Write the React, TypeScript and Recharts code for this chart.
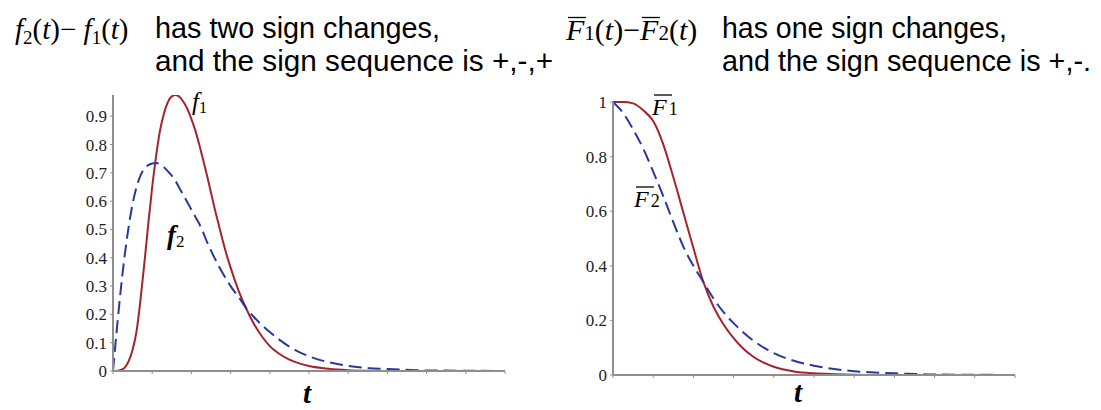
import React from 'react';
import { LineChart, Line, XAxis, YAxis } from 'recharts';

// ---- Left panel: densities f1 (solid) and f2 (dashed)
const densityT = [0, 0.1, 0.2, 0.3, 0.4, 0.5, 0.6, 0.7, 0.8, 0.9, 1.0, 1.1, 1.2, 1.3, 1.4, 1.5, 1.6, 1.7, 1.8, 1.9, 2.0, 2.1, 2.2, 2.3, 2.4, 2.5, 2.6, 2.7, 2.8, 2.9, 3.0, 3.2, 3.4, 3.6, 3.8, 4.0, 4.25, 4.5, 4.75, 5, 5.5, 6, 6.5, 7, 7.5, 8, 9, 10];
const f1Values = [0, 0.001, 0.004, 0.012, 0.035, 0.075, 0.14, 0.25, 0.38, 0.52, 0.65, 0.76, 0.85, 0.91, 0.95, 0.97, 0.975, 0.968, 0.95, 0.925, 0.89, 0.85, 0.8, 0.745, 0.69, 0.63, 0.57, 0.515, 0.46, 0.41, 0.365, 0.285, 0.22, 0.165, 0.122, 0.088, 0.06, 0.04, 0.027, 0.018, 0.008, 0.003, 0.001, 0, 0, 0, 0, 0];
const f2Values = [0, 0.15, 0.29, 0.41, 0.51, 0.59, 0.65, 0.69, 0.715, 0.727, 0.733, 0.735, 0.73, 0.72, 0.705, 0.69, 0.67, 0.645, 0.62, 0.595, 0.57, 0.545, 0.52, 0.49, 0.455, 0.425, 0.397, 0.37, 0.345, 0.322, 0.3, 0.262, 0.222, 0.19, 0.162, 0.138, 0.11, 0.086, 0.067, 0.052, 0.031, 0.018, 0.011, 0.007, 0.004, 0.002, 0.001, 0];

// ---- Right panel: survival functions F1bar (solid) and F2bar (dashed)
const survT = [0, 0.25, 0.5, 0.75, 1.0, 1.25, 1.5, 1.75, 2.0, 2.25, 2.5, 2.75, 3.0, 3.25, 3.5, 3.75, 4.0, 4.5, 5, 5.5, 6, 6.5, 7, 7.5, 8, 9, 10];
const F1barValues = [1, 1, 0.995, 0.97, 0.93, 0.845, 0.725, 0.595, 0.465, 0.34, 0.25, 0.185, 0.135, 0.095, 0.066, 0.045, 0.03, 0.013, 0.006, 0.003, 0.001, 0, 0, 0, 0, 0, 0];
const F2barValues = [1, 0.96, 0.9, 0.83, 0.745, 0.655, 0.56, 0.47, 0.4, 0.34, 0.28, 0.23, 0.19, 0.155, 0.125, 0.1, 0.08, 0.052, 0.034, 0.022, 0.014, 0.009, 0.006, 0.004, 0.002, 0.001, 0];

// ---- Ticks
const xTicks = [0, 1, 2, 3, 4, 5, 6, 7, 8, 9, 10];
const leftYTicks = [0, 0.1, 0.2, 0.3, 0.4, 0.5, 0.6, 0.7, 0.8, 0.9];
const leftYTickLabels = ['0', '0.1', '0.2', '0.3', '0.4', '0.5', '0.6', '0.7', '0.8', '0.9'];
const rightYTicks = [0, 0.2, 0.4, 0.6, 0.8, 1];
const rightYTickLabels = ['0', '0.2', '0.4', '0.6', '0.8', '1'];

const densityRows = densityT.map((t, i) => ({ t, f1: f1Values[i], f2: f2Values[i] }));
const survRows = survT.map((t, i) => ({ t, F1: F1barValues[i], F2: F2barValues[i] }));

const RED = '#a3232f';
const BLUE = '#28399b';
const AXIS = '#8e8e8e';
const SERIF = '"Liberation Serif", "DejaVu Serif", serif';
const SANS = '"Liberation Sans", Arial, sans-serif';

const tickStyle = { fontFamily: SERIF, fontSize: 17, fill: '#222' };

export default function App() {
  return (
    <div style={{ position: 'absolute', left: 0, top: 0, width: 1101, height: 410, background: '#fff' }}>
      <div style={{ position: 'absolute', left: 0, top: 0 }}>
        <LineChart width={560} height={410} data={densityRows} margin={{ top: 95, right: 55, bottom: 29, left: 0 }}>
          <XAxis
            dataKey="t"
            type="number"
            domain={[0, 10]}
            ticks={xTicks}
            tickFormatter={() => ''}
            height={10}
            tickSize={3}
            axisLine={{ stroke: AXIS, strokeWidth: 2 }}
            tickLine={{ stroke: AXIS }}
          />
          <YAxis
            type="number"
            domain={[0, 0.975]}
            allowDataOverflow
            ticks={leftYTicks}
            tickFormatter={(v: number) => leftYTickLabels[leftYTicks.indexOf(v)] ?? ''}
            width={113}
            tickSize={3}
            tickMargin={3}
            tick={tickStyle}
            axisLine={{ stroke: AXIS, strokeWidth: 2 }}
            tickLine={{ stroke: AXIS }}
          />
          <Line type="monotone" dataKey="f1" stroke={RED} strokeWidth={2} dot={false} isAnimationActive={false} />
          <Line type="monotone" dataKey="f2" stroke={BLUE} strokeWidth={2} strokeDasharray="13 6" dot={false} isAnimationActive={false} />
        </LineChart>
      </div>
      <div style={{ position: 'absolute', left: 560, top: 0 }}>
        <LineChart width={541} height={410} data={survRows} margin={{ top: 102, right: 86, bottom: 25, left: 0 }}>
          <XAxis
            dataKey="t"
            type="number"
            domain={[0, 10]}
            ticks={xTicks}
            tickFormatter={() => ''}
            height={10}
            tickSize={3}
            axisLine={{ stroke: AXIS, strokeWidth: 2 }}
            tickLine={{ stroke: AXIS }}
          />
          <YAxis
            type="number"
            domain={[0, 1]}
            ticks={rightYTicks}
            tickFormatter={(v: number) => rightYTickLabels[rightYTicks.indexOf(v)] ?? ''}
            width={53}
            tickSize={3}
            tickMargin={3}
            tick={tickStyle}
            axisLine={{ stroke: AXIS, strokeWidth: 2 }}
            tickLine={{ stroke: AXIS }}
          />
          <Line type="monotone" dataKey="F1" stroke={RED} strokeWidth={2} dot={false} isAnimationActive={false} />
          <Line type="monotone" dataKey="F2" stroke={BLUE} strokeWidth={2} strokeDasharray="13 6" dot={false} isAnimationActive={false} />
        </LineChart>
      </div>
      <svg width={1101} height={410} style={{ position: 'absolute', left: 0, top: 0, pointerEvents: 'none' }}>
        {/* Left title */}
        <text x={15} y={39} fontFamily={SERIF} fontSize={29} fill="#000">
          <tspan fontStyle="italic">f</tspan>
          <tspan fontSize={19} dy={5}>2</tspan>
          <tspan dy={-5}>(</tspan>
          <tspan fontStyle="italic">t</tspan>
          <tspan>)− </tspan>
          <tspan fontStyle="italic">f</tspan>
          <tspan fontSize={19} dy={5}>1</tspan>
          <tspan dy={-5}>(</tspan>
          <tspan fontStyle="italic">t</tspan>
          <tspan>)</tspan>
        </text>
        <text x={155} y={38} fontFamily={SANS} fontSize={29} fill="#000" textLength={285} lengthAdjust="spacingAndGlyphs">has two sign changes,</text>
        <text x={155} y={71} fontFamily={SANS} fontSize={29} fill="#000" textLength={398} lengthAdjust="spacingAndGlyphs">and the sign sequence is +,-,+</text>

        {/* Right title */}
        <text x={566} y={40} fontFamily={SERIF} fontSize={30} fill="#000">
          <tspan fontStyle="italic">F</tspan>
          <tspan fontSize={21}>1</tspan>
          <tspan>(</tspan>
          <tspan fontStyle="italic">t</tspan>
          <tspan>)−</tspan>
          <tspan fontStyle="italic">F</tspan>
          <tspan fontSize={21}>2</tspan>
          <tspan>(</tspan>
          <tspan fontStyle="italic">t</tspan>
          <tspan>)</tspan>
        </text>
        <line x1={568} x2={586} y1={17.5} y2={17.5} stroke="#000" strokeWidth={1.3} />
        <line x1={642} x2={660} y1={17.5} y2={17.5} stroke="#000" strokeWidth={1.3} />
        <text x={722} y={38} fontFamily={SANS} fontSize={29} fill="#000" textLength={285} lengthAdjust="spacingAndGlyphs">has one sign changes,</text>
        <text x={722} y={71} fontFamily={SANS} fontSize={29} fill="#000" textLength={369} lengthAdjust="spacingAndGlyphs">and the sign sequence is +,-.</text>

        {/* Curve labels left */}
        <text x={192} y={110} fontFamily={SERIF} fontSize={25} fill="#000">
          <tspan fontStyle="italic">f</tspan>
          <tspan fontSize={16} dy={3}>1</tspan>
        </text>
        <text x={167} y={244} fontFamily={SERIF} fontSize={27} fill="#000">
          <tspan fontStyle="italic" fontWeight="bold">f</tspan>
          <tspan fontSize={17} dy={3}>2</tspan>
        </text>

        {/* Curve labels right */}
        <text x={652} y={115} fontFamily={SERIF} fontSize={24} fill="#000">
          <tspan fontStyle="italic">F</tspan>
          <tspan fontSize={18} dx={2}>1</tspan>
        </text>
        <line x1={654} x2={672} y1={95} y2={95} stroke="#000" strokeWidth={1.3} />
        <text x={634} y={207} fontFamily={SERIF} fontSize={24} fill="#000">
          <tspan fontStyle="italic">F</tspan>
          <tspan fontSize={18} dx={2}>2</tspan>
        </text>
        <line x1={636} x2={654} y1={187} y2={187} stroke="#000" strokeWidth={1.3} />

        {/* t axis labels */}
        <text x={307} y={403} textAnchor="middle" fontFamily={SERIF} fontSize={29} fontStyle="italic" fontWeight="bold" fill="#000">t</text>
        <text x={798} y={402} textAnchor="middle" fontFamily={SERIF} fontSize={29} fontStyle="italic" fontWeight="bold" fill="#000">t</text>
      </svg>
    </div>
  );
}
